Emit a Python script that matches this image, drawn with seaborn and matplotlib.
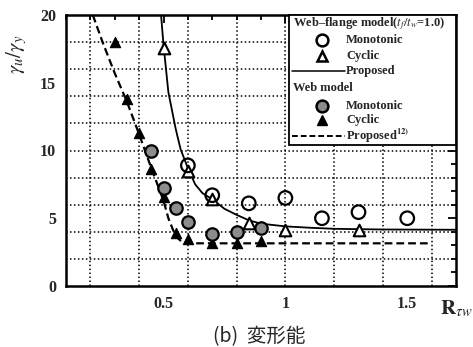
import matplotlib
matplotlib.use("Agg")
import matplotlib.pyplot as plt
from matplotlib.patches import Rectangle
from matplotlib.ticker import MultipleLocator
import seaborn as sns

# Web-flange model (tf/tw = 1.0)
wf_mono_r = [0.60, 0.70, 0.85, 1.00, 1.15, 1.30, 1.50]
wf_mono_g = [8.9, 6.7, 6.1, 6.5, 5.0, 5.45, 5.0]
wf_cyc_r = [0.50, 0.60, 0.70, 0.85, 1.00, 1.30]
wf_cyc_g = [17.6, 8.5, 6.4, 4.65, 4.1, 4.1]
wf_prop_r = [0.49, 0.50, 0.52, 0.55, 0.57, 0.60, 0.63, 0.66, 0.70, 0.75,
             0.80, 0.85, 0.90, 1.00, 1.10, 1.20, 1.40, 1.70]
wf_prop_g = [20.0, 17.8, 14.3, 11.6, 10.1, 8.7, 7.5, 6.85, 6.4, 5.7,
             5.25, 4.85, 4.6, 4.4, 4.3, 4.22, 4.17, 4.15]

# Web model
w_mono_r = [0.45, 0.50, 0.55, 0.60, 0.70, 0.80, 0.90]
w_mono_g = [10.0, 7.2, 5.75, 4.75, 3.85, 3.95, 4.3]
w_cyc_r = [0.30, 0.35, 0.40, 0.45, 0.50, 0.55, 0.60, 0.70, 0.80, 0.90]
w_cyc_g = [18.0, 13.8, 11.3, 8.6, 6.6, 3.9, 3.5, 3.2, 3.2, 3.3]
w_prop_r = [0.21, 0.25, 0.30, 0.35, 0.40, 0.45, 0.50, 0.52, 0.54, 0.56,
            0.58, 0.60, 1.60]
w_prop_g = [20.0, 18.0, 15.7, 13.6, 11.2, 8.7, 6.3, 5.0, 4.1, 3.5,
            3.2, 3.15, 3.15]

sns.set_style("white")
plt.rcParams["font.family"] = ["Liberation Serif", "DejaVu Serif"]
plt.rcParams["mathtext.fontset"] = "stix"

fig = plt.figure(figsize=(4.73, 3.47), dpi=100)
ax = fig.add_axes([66 / 473, 61 / 347, 390 / 473, 271 / 347])

# proposed curves
sns.lineplot(x=wf_prop_r, y=wf_prop_g, ax=ax, color="black", lw=1.3,
             sort=False, estimator=None, zorder=3)
sns.lineplot(x=w_prop_r, y=w_prop_g, ax=ax, color="black", lw=1.6,
             sort=False, estimator=None, zorder=3)
ax.lines[-1].set_dashes((3.5, 1.8))

# test results
sns.scatterplot(x=w_cyc_r, y=w_cyc_g, ax=ax, marker="^", s=55,
                color="black", edgecolor="black", linewidth=0.8, zorder=4)
sns.scatterplot(x=w_mono_r, y=w_mono_g, ax=ax, marker="o", s=80,
                color="#8c8c8c", edgecolor="black", linewidth=1.6, zorder=5)
sns.scatterplot(x=wf_cyc_r, y=wf_cyc_g, ax=ax, marker="^", s=70,
                color="white", edgecolor="black", linewidth=1.5, zorder=6)
sns.scatterplot(x=wf_mono_r, y=wf_mono_g, ax=ax, marker="o", s=95,
                facecolor="none", edgecolor="black", linewidth=1.6, zorder=6)

ax.set_xlim(0.1, 1.7)
ax.set_ylim(0, 20)
ax.set_xlabel("")
ax.set_ylabel("")

# dotted grid every 0.2 / 2
for gx in [0.2, 0.4, 0.6, 0.8, 1.0, 1.2, 1.4, 1.6]:
    ax.axvline(gx, color="black", lw=1.1, ls=(0, (1, 1.6)), zorder=1)
for gy in [2, 4, 6, 8, 10, 12, 14, 16, 18]:
    ax.axhline(gy, color="black", lw=1.1, ls=(0, (1, 1.6)), zorder=1)

ax.xaxis.set_major_locator(MultipleLocator(0.5))
ax.xaxis.set_minor_locator(MultipleLocator(0.1))
ax.yaxis.set_major_locator(MultipleLocator(5))
ax.yaxis.set_minor_locator(MultipleLocator(1))
ax.set_xticks([0.5, 1.0, 1.5])
ax.set_xticklabels(["0.5", "1", "1.5"])
ax.tick_params(which="both", direction="in", top=True, right=True,
               width=1.3, color="black")
ax.tick_params(which="major", length=6, labelsize=11.5, pad=7)
ax.tick_params(which="minor", length=3.5)
for lab in ax.get_xticklabels() + ax.get_yticklabels():
    lab.set_fontweight("bold")
for sp in ax.spines.values():
    sp.set_linewidth(1.8)
    sp.set_color("black")

# legend box
ax.add_patch(Rectangle((0.572, 0.52), 0.428, 0.48, transform=ax.transAxes,
                       facecolor="white", edgecolor="black", lw=1.3,
                       zorder=8, clip_on=False))
fs = 9
tx, mx, hx = 0.718, 0.656, 0.582
rows = [0.968, 0.906, 0.847, 0.795, 0.732, 0.666, 0.611, 0.555]
kw = dict(transform=ax.transAxes, va="center", ha="left", fontsize=fs,
          zorder=9, fontweight="bold")
ax.text(hx, rows[0], r"Web–flange model($t_f$/$t_w$=1.0)", **kw)
ax.plot([mx], [rows[1]], transform=ax.transAxes, marker="o", ms=8.5,
        mfc="white", mec="black", mew=1.8, zorder=9, clip_on=False)
ax.text(tx, rows[1], "Monotonic", **kw)
ax.plot([mx], [rows[2]], transform=ax.transAxes, marker="^", ms=7.5,
        mfc="white", mec="black", mew=1.8, zorder=9, clip_on=False)
ax.text(tx, rows[2], "Cyclic", **kw)
ax.plot([0.579, 0.715], [rows[3], rows[3]], transform=ax.transAxes,
        color="black", lw=1.1, zorder=9)
ax.text(tx, rows[3], "Proposed", **kw)
ax.text(hx, rows[4], "Web model", **kw)
ax.plot([mx], [rows[5]], transform=ax.transAxes, marker="o", ms=8.5,
        mfc="#8c8c8c", mec="black", mew=1.8, zorder=9, clip_on=False)
ax.text(tx, rows[5], "Monotonic", **kw)
ax.plot([mx], [rows[6]], transform=ax.transAxes, marker="^", ms=7,
        mfc="black", mec="black", mew=1, zorder=9, clip_on=False)
ax.text(tx, rows[6], "Cyclic", **kw)
ln, = ax.plot([0.579, 0.715], [rows[7], rows[7]], transform=ax.transAxes,
              color="black", lw=1.4, zorder=9)
ln.set_dashes((3, 1.5))
ax.text(tx, rows[7], r"Proposed$^{\mathbf{12)}}$", **kw)

# axis titles
fig.text(17 / 473, 1 - 54 / 347, r"$\gamma_u/\gamma_y$", rotation=90,
         ha="center", va="center", fontsize=15)
fig.text(440 / 473, 1 - 309 / 347, r"$\mathbf{R}_{\tau w}$", ha="left",
         va="center", fontsize=15)
fig.text(259 / 473, 1 - 337 / 347, "(b)  変形能", ha="center", va="center",
         fontsize=14, family=["Noto Sans CJK JP", "DejaVu Sans"])

fig.savefig("out.png", dpi=100)
